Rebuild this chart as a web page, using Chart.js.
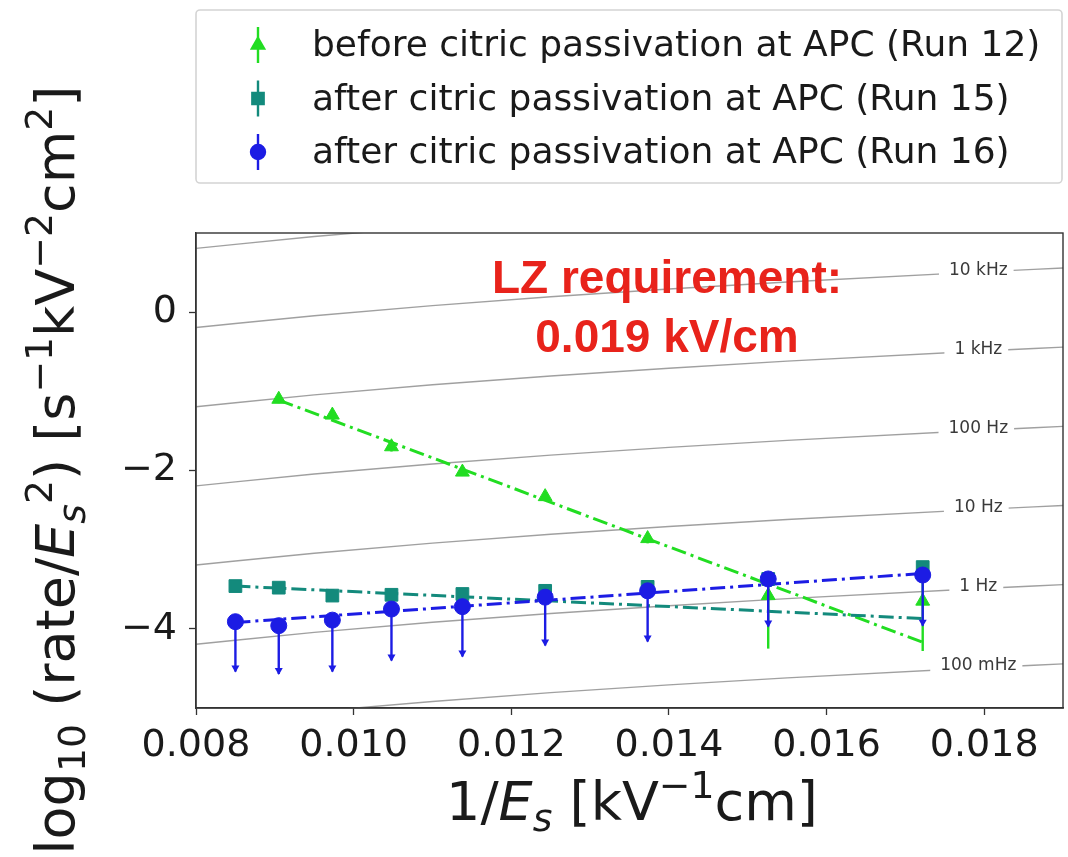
<!DOCTYPE html>
<html><head><meta charset="utf-8">
<script src="https://cdn.jsdelivr.net/npm/chart.js@4.4.1/dist/chart.umd.min.js"></script>
<style>html,body{margin:0;padding:0;background:#fff;} #wrap{width:1068px;height:857px;position:relative;}</style>
</head><body><div id="wrap"><canvas id="c" width="1068" height="857"></canvas></div>
<script>
// ---------- data ----------
const xTickValues = [0.008, 0.010, 0.012, 0.014, 0.016, 0.018];
const yTickValues = [-4, -2, 0];
const seriesLabels = [
  'before citric passivation at APC (Run 12)',
  'after citric passivation at APC (Run 15)',
  'after citric passivation at APC (Run 16)'
];
const xRun12 = [0.00905, 0.00973, 0.01048, 0.01138, 0.01243, 0.01373, 0.01526, 0.01722];
const run12Y  = [-1.10, -1.30, -1.70, -2.02, -2.33, -2.86, -3.58, -3.65];
const run12Lo = [-1.15, -1.35, -1.76, -2.07, -2.38, -2.92, -4.25, -4.28];
const run12Hi = [-1.05, -1.25, -1.64, -1.97, -2.28, -2.80, -3.42, -3.42];

const xRun1516 = [0.00850, 0.00905, 0.00973, 0.01048, 0.01138, 0.01243, 0.01373, 0.01526, 0.01722];
const run15Y  = [-3.46, -3.48, -3.58, -3.57, -3.56, -3.52, -3.47, -3.37, -3.22];
const run15Lo = [-3.52, -3.54, -3.64, -3.63, -3.62, -3.58, -3.53, -3.43, -3.28];
const run15Hi = [-3.40, -3.42, -3.52, -3.51, -3.50, -3.46, -3.41, -3.31, -3.16];
const run16Y  = [-3.91, -3.96, -3.89, -3.75, -3.72, -3.60, -3.52, -3.37, -3.32];
const run16Lo = [-4.54, -4.57, -4.54, -4.40, -4.35, -4.21, -4.16, -3.97, -3.96];

const run12FitX = [0.00905, 0.01722], run12FitY = [-1.11, -4.17];
const run15FitX = [0.00850, 0.01722], run15FitY = [-3.46, -3.87];
const run16FitX = [0.00850, 0.01722], run16FitY = [-3.92, -3.30];

// iso-rate guide curves (1 Hz curve; other curves shifted by whole decades)
const guideX     = [0.008, 0.0095, 0.011, 0.0125, 0.014, 0.0155, 0.0179, 0.019];
const guideOneHz = [-4.194, -4.045, -3.917, -3.806, -3.708, -3.619, -3.494, -3.442];
const guideDecades = [-1, 0, 1, 2, 3, 4, 5];
const guideLabels  = ['100 mHz', '1 Hz', '10 Hz', '100 Hz', '1 kHz', '10 kHz', ''];
const guideLabelIndex = 6;

const annotationLines = ['LZ requirement:', '0.019 kV/cm'];

// ---------- styles ----------
const GREEN = '#22dd22', TEAL = '#138a7c', BLUE = '#1c1ce4';
const FONT = '"DejaVu Sans"';
Chart.defaults.font.family = FONT;

const pts = (xs, ys) => xs.map((x, i) => ({x: x, y: ys[i]}));

const datasets = [];
guideDecades.forEach((d, k) => {
  datasets.push({
    type: 'line', label: 'guide' + k, isGuide: true, guideText: guideLabels[k],
    data: guideX.map((x, i) => ({x: x, y: guideOneHz[i] + d})),
    borderColor: 'rgba(120,120,120,0.7)', borderWidth: 1.4, pointRadius: 0,
    cubicInterpolationMode: 'monotone', order: 20
  });
});
const dashDot = [15, 5, 3, 5];
datasets.push({type:'line', label:'fit12', data: pts(run12FitX, run12FitY), borderColor: GREEN, borderWidth: 3, borderDash: dashDot, pointRadius: 0, order: 5});
datasets.push({type:'line', label:'fit15', data: pts(run15FitX, run15FitY), borderColor: TEAL, borderWidth: 3, borderDash: dashDot, pointRadius: 0, order: 4});
datasets.push({type:'line', label:'fit16', data: pts(run16FitX, run16FitY), borderColor: BLUE, borderWidth: 3, borderDash: dashDot, pointRadius: 0, order: 3});
datasets.push({type:'scatter', label: seriesLabels[0], isSeries: true, data: pts(xRun12, run12Y), errLo: run12Lo, errHi: run12Hi,
  pointStyle: 'triangle', pointRadius: 8, backgroundColor: GREEN, borderColor: GREEN, order: 2});
datasets.push({type:'scatter', label: seriesLabels[1], isSeries: true, data: pts(xRun1516, run15Y), errLo: run15Lo, errHi: run15Hi,
  pointStyle: 'rect', pointRadius: 9, backgroundColor: TEAL, borderColor: TEAL, order: 1});
datasets.push({type:'scatter', label: seriesLabels[2], isSeries: true, data: pts(xRun1516, run16Y), errLo: run16Lo, upperLimit: true,
  pointStyle: 'circle', pointRadius: 8, backgroundColor: BLUE, borderColor: BLUE, order: 0});

// ---------- plugins ----------
const errorBars = {
  id: 'errorBars',
  beforeDatasetDraw(chart, args) {
    const ds = chart.data.datasets[args.index];
    if (!ds.errLo) return;
    const ctx = chart.ctx, xs = chart.scales.x, ys = chart.scales.y, a = chart.chartArea;
    ctx.save();
    ctx.beginPath(); ctx.rect(a.left, a.top, a.right - a.left, a.bottom - a.top); ctx.clip();
    ctx.strokeStyle = ds.borderColor; ctx.fillStyle = ds.borderColor; ctx.lineWidth = 2.4;
    ds.data.forEach((p, i) => {
      const px = xs.getPixelForValue(p.x);
      const lo = ys.getPixelForValue(ds.errLo[i]);
      const hi = ys.getPixelForValue(ds.errHi ? ds.errHi[i] : p.y);
      ctx.beginPath(); ctx.moveTo(px, hi); ctx.lineTo(px, lo); ctx.stroke();
      if (ds.upperLimit) {
        ctx.beginPath(); ctx.moveTo(px - 4, lo - 6); ctx.lineTo(px + 4, lo - 6); ctx.lineTo(px, lo + 1); ctx.closePath(); ctx.fill();
      }
    });
    ctx.restore();
  }
};

function segFont(s, size) {
  const sz = (s.sub || s.sup) ? size * 0.7 : size;
  return (s.it ? 'italic ' : '') + sz + 'px ' + FONT;
}
function drawRich(ctx, segs, cx, baseline, size) {
  let w = 0;
  segs.forEach(s => { ctx.font = segFont(s, size); w += ctx.measureText(s.t).width; });
  let x = cx - w / 2;
  ctx.textAlign = 'left'; ctx.textBaseline = 'alphabetic';
  segs.forEach(s => {
    ctx.font = segFont(s, size);
    const dy = s.sub ? size * 0.2 : (s.sup ? -size * 0.4 : 0);
    ctx.fillText(s.t, x, baseline + dy);
    x += ctx.measureText(s.t).width;
  });
}
const xTitle = [{t:'1/'},{t:'E',it:true},{t:'s',sub:true,it:true},{t:' [kV'},{t:'\u22121',sup:true},{t:'cm]'}];
const yTitle = [{t:'log'},{t:'10',sub:true},{t:' (rate/'},{t:'E',it:true},{t:'s',sub:true,it:true},{t:'2',sup:true},
  {t:') [s'},{t:'\u22121',sup:true},{t:'kV'},{t:'\u22122',sup:true},{t:'cm'},{t:'2',sup:true},{t:']'}];

const decorations = {
  id: 'decorations',
  afterDatasetsDraw(chart) {
    const ctx = chart.ctx, xs = chart.scales.x, ys = chart.scales.y, a = chart.chartArea;
    ctx.save();
    ctx.font = '17px ' + FONT; ctx.textAlign = 'center'; ctx.textBaseline = 'middle';
    chart.data.datasets.forEach(ds => {
      if (!ds.isGuide || !ds.guideText) return;
      const p = ds.data[guideLabelIndex];
      const px = xs.getPixelForValue(p.x), py = ys.getPixelForValue(p.y);
      if (py < a.top || py > a.bottom) return;
      const w = ctx.measureText(ds.guideText).width;
      ctx.fillStyle = '#fff'; ctx.fillRect(px - w / 2 - 8, py - 9, w + 16, 18);
      ctx.fillStyle = '#3a3a3a'; ctx.fillText(ds.guideText, px + 2, py - 2);
    });
    ctx.fillStyle = '#e8231b'; ctx.font = 'bold 46px "Liberation Sans"'; ctx.textAlign = 'center'; ctx.textBaseline = 'alphabetic';
    ctx.fillText(annotationLines[0], 667, 293);
    ctx.fillText(annotationLines[1], 667, 352);
    ctx.restore();
  },
  afterDraw(chart) {
    const ctx = chart.ctx, a = chart.chartArea;
    ctx.save();
    ctx.strokeStyle = '#333'; ctx.lineWidth = 1.4;
    ctx.strokeRect(a.left, a.top, a.right - a.left, a.bottom - a.top);
    ctx.fillStyle = '#1a1a1a';
    drawRich(ctx, xTitle, 632, 820, 54);
    ctx.save(); ctx.translate(74, 470); ctx.rotate(-Math.PI / 2);
    drawRich(ctx, yTitle, 0, 0, 54);
    ctx.restore();
    const lx = 196, ly = 10, lw = 866, lh = 173;
    ctx.fillStyle = 'rgba(255,255,255,0.9)'; ctx.strokeStyle = '#d4d4d4'; ctx.lineWidth = 1.6;
    ctx.beginPath(); ctx.roundRect(lx, ly, lw, lh, 4); ctx.fill(); ctx.stroke();
    const series = chart.data.datasets.filter(d => d.isSeries);
    ctx.font = '36px ' + FONT; ctx.textAlign = 'left'; ctx.textBaseline = 'middle';
    series.forEach((ds, i) => {
      const cy = 45 + i * 53.5, hx = 258;
      ctx.strokeStyle = ds.borderColor; ctx.fillStyle = ds.borderColor; ctx.lineWidth = 2.4;
      ctx.beginPath(); ctx.moveTo(hx, cy - 18); ctx.lineTo(hx, cy + 18); ctx.stroke();
      Chart.helpers.drawPoint(ctx, {pointStyle: ds.pointStyle, radius: ds.pointRadius - 1, borderWidth: 1}, hx, cy);
      ctx.fillStyle = '#1a1a1a';
      ctx.fillText(ds.label, 312, cy + 2);
    });
    ctx.restore();
  }
};

const fmtY = v => (v < 0 ? '\u2212' + Math.abs(v) : String(v));

new Chart(document.getElementById('c'), {
  type: 'scatter',
  data: {datasets: datasets},
  options: {
    responsive: false, animation: false,
    layout: {autoPadding: false, padding: {top: 233, right: 5, bottom: 0, left: 0}},
    plugins: {legend: {display: false}, tooltip: {enabled: false}},
    scales: {
      x: {
        type: 'linear', min: 0.008, max: 0.019,
        afterBuildTicks: s => { s.ticks = xTickValues.map(v => ({value: v})); },
        afterFit: s => { s.height = 149; s.paddingRight = 0; s.paddingLeft = 0; },
        ticks: {font: {size: 38}, color: '#1a1a1a', padding: 8, maxRotation: 0, autoSkip: false,
          callback: v => v.toFixed(3)},
        grid: {drawOnChartArea: false, drawTicks: true, tickLength: 7, tickColor: '#333', tickWidth: 1.3},
        border: {display: true, color: '#333', width: 1.4}
      },
      y: {
        type: 'linear', min: -5, max: 1,
        afterBuildTicks: s => { s.ticks = yTickValues.map(v => ({value: v})); },
        afterFit: s => { s.width = 196; s.paddingTop = 0; s.paddingBottom = 0; },
        ticks: {font: {size: 38}, color: '#1a1a1a', padding: 12, autoSkip: false, callback: fmtY},
        grid: {drawOnChartArea: false, drawTicks: true, tickLength: 7, tickColor: '#333', tickWidth: 1.3},
        border: {display: true, color: '#333', width: 1.4}
      }
    }
  },
  plugins: [errorBars, decorations]
});
</script>
</body></html>
